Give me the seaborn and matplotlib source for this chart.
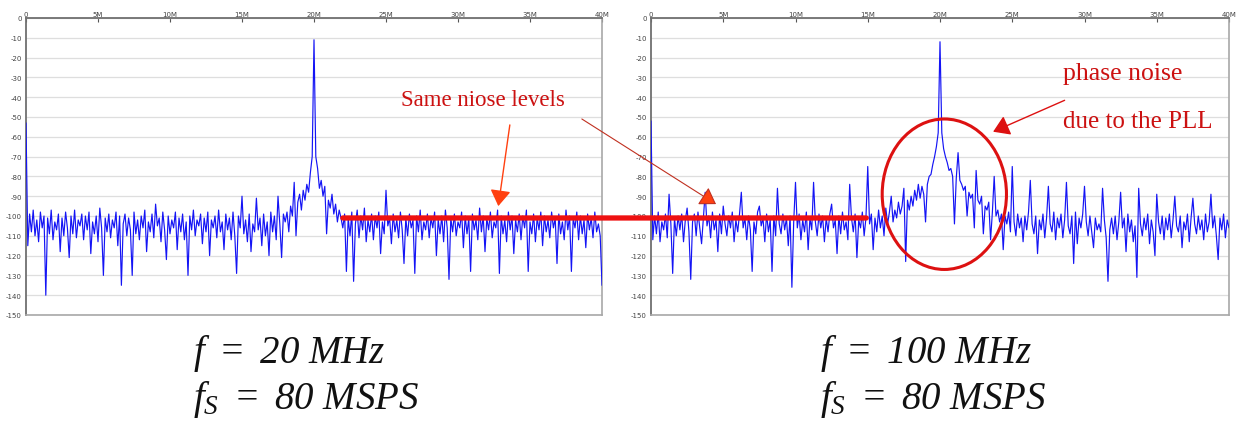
import numpy as np
import pandas as pd
import matplotlib
matplotlib.use("Agg")
import matplotlib.pyplot as plt
import seaborn as sns
from matplotlib.patches import Ellipse, ConnectionPatch

# spectrum bins, 0.125 MHz apart, 0 .. 40 MHz (dBFS)
bin_step_mhz = 0.125

spec_20mhz = [
    -53, -115, -99, -108, -97, -110, -102, -113, -98, -106, -100, -140, -101, -109, -97, -112,
    -103, -107, -99, -118, -101, -110, -98, -106, -121, -100, -109, -97, -111, -102, -105, -99,
    -112, -100, -107, -98, -119, -103, -109, -100, -113, -96, -106, -130, -101, -108, -99, -111,
    -102, -106, -98, -115, -100, -135, -104, -99, -110, -101, -107, -130, -98, -109, -102, -112,
    -100, -106, -97, -118, -103, -108, -99, -111, -94, -105, -101, -113, -98, -107, -122, -100,
    -109, -102, -106, -98, -117, -101, -108, -99, -112, -103, -130, -100, -107, -97, -110, -102,
    -105, -99, -114, -101, -108, -98, -120, -102, -106, -100, -111, -97, -108, -103, -117, -99,
    -107, -101, -112, -98, -110, -129, -100, -106, -90, -109, -102, -113, -99, -118, -104, -108,
    -91, -107, -101, -115, -99, -110, -103, -120, -98, -108, -100, -112, -90, -104, -121, -99,
    -103, -98, -108, -95, -100, -83, -110, -93, -89, -97, -87, -92, -84, -88, -78, -70,
    -11, -70, -76, -86, -82, -90, -85, -109, -92, -96, -89, -99, -94, -103, -97, -101,
    -106, -99, -128, -101, -110, -98, -133, -104, -97, -111, -100, -107, -96, -113, -102, -108,
    -99, -112, -100, -106, -98, -119, -103, -109, -87, -105, -101, -114, -99, -108, -102, -111,
    -98, -107, -124, -101, -110, -99, -106, -102, -129, -100, -108, -97, -112, -103, -107, -99,
    -111, -101, -106, -98, -120, -102, -109, -100, -113, -97, -106, -132, -101, -108, -99, -110,
    -103, -106, -98, -116, -100, -109, -101, -128, -99, -107, -102, -112, -96, -108, -100, -118,
    -101, -107, -98, -111, -103, -106, -97, -129, -100, -109, -102, -113, -98, -107, -100, -119,
    -102, -108, -99, -112, -100, -106, -97, -128, -103, -109, -99, -113, -101, -107, -98, -115,
    -100, -108, -102, -111, -98, -106, -101, -124, -99, -109, -103, -112, -97, -107, -100, -128,
    -101, -106, -98, -112, -100, -109, -102, -116, -99, -107, -101, -111, -98, -108, -104, -110,
    -135,
]

spec_100mhz = [
    -52, -112, -100, -109, -98, -113, -103, -107, -99, -111, -89, -104, -129, -101, -110, -100,
    -107, -99, -113, -102, -96, -108, -132, -103, -99, -110, -98, -106, -114, -101, -88, -105,
    -100, -111, -98, -107, -102, -118, -99, -109, -95, -104, -110, -100, -106, -98, -113, -102,
    -108, -99, -88, -106, -101, -112, -100, -107, -128, -103, -109, -98, -95, -105, -101, -113,
    -99, -108, -102, -128, -100, -110, -86, -104, -109, -99, -107, -101, -115, -100, -136, -103,
    -83, -106, -99, -112, -102, -108, -98, -117, -101, -107, -83, -103, -110, -99, -106, -100,
    -113, -101, -108, -99, -94, -106, -102, -119, -100, -109, -98, -107, -103, -112, -84, -101,
    -108, -99, -121, -102, -106, -98, -110, -101, -75, -104, -99, -117, -101, -108, -97, -106,
    -100, -110, -96, -104, -98, -90, -103, -97, -101, -93, -99, -95, -86, -123, -92, -97,
    -90, -95, -87, -92, -84, -91, -85, -89, -103, -84, -80, -79, -74, -70, -65, -58,
    -12, -58, -66, -70, -73, -77, -76, -80, -104, -81, -68, -82, -84, -87, -85, -100,
    -88, -91, -89, -106, -77, -92, -94, -90, -109, -95, -97, -93, -112, -98, -80, -100,
    -97, -103, -99, -117, -100, -104, -98, -108, -75, -103, -110, -99, -106, -101, -113, -100,
    -107, -98, -82, -104, -109, -100, -119, -102, -107, -99, -111, -101, -85, -104, -108, -98,
    -112, -101, -106, -99, -111, -102, -83, -105, -109, -100, -124, -98, -114, -101, -106, -99,
    -85, -103, -110, -100, -108, -116, -101, -107, -104, -108, -86, -102, -111, -133, -107, -101,
    -109, -100, -112, -103, -88, -106, -101, -118, -99, -108, -102, -113, -105, -131, -86, -104,
    -110, -101, -107, -99, -114, -102, -108, -120, -89, -103, -109, -100, -112, -101, -107, -99,
    -111, -102, -90, -105, -108, -100, -116, -103, -107, -99, -113, -101, -91, -104, -109, -100,
    -107, -102, -112, -99, -108, -103, -89, -106, -100, -110, -122, -101, -107, -99, -111, -102,
    -106,
]

x_ticks = [0, 5, 10, 15, 20, 25, 30, 35, 40]
x_tick_labels = ["0", "5M", "10M", "15M", "20M", "25M", "30M", "35M", "40M"]
y_ticks = list(range(0, -151, -10))
y_tick_labels = [str(v) for v in y_ticks]

noise_level = -101
captions = [
    (r"$f\ =\ 20\ MHz$", r"$f_S\ =\ 80\ MSPS$"),
    (r"$f\ =\ 100\ MHz$", r"$f_S\ =\ 80\ MSPS$"),
]

sns.set_style("white")
plt.rcParams["mathtext.fontset"] = "custom"
plt.rcParams["mathtext.rm"] = "Liberation Serif:italic"
plt.rcParams["mathtext.it"] = "Liberation Serif:italic"
plt.rcParams["mathtext.default"] = "it"
plt.rcParams["font.family"] = ["DejaVu Sans"]

fig = plt.figure(figsize=(12.39, 4.35), dpi=100)
ax1 = fig.add_axes([26 / 1239, 1 - 316 / 435, 576 / 1239, 297 / 435])
ax2 = fig.add_axes([651 / 1239, 1 - 316 / 435, 578 / 1239, 297 / 435])

for ax, spec in [(ax1, spec_20mhz), (ax2, spec_100mhz)]:
    df = pd.DataFrame({"freq": np.arange(len(spec)) * bin_step_mhz, "dB": spec})
    sns.lineplot(data=df, x="freq", y="dB", ax=ax, estimator=None,
                 color="#1414f5", lw=0.85, zorder=3)
    ax.set_xlim(0, 40)
    ax.set_ylim(-150, 0)
    ax.xaxis.tick_top()
    ax.set_xticks(x_ticks)
    ax.set_xticklabels(x_tick_labels)
    ax.set_yticks(y_ticks)
    ax.set_yticklabels(y_tick_labels)
    ax.tick_params(axis="x", direction="in", length=3, color="#555555",
                   labelsize=5, labelcolor="#444444", pad=1)
    ax.tick_params(axis="y", length=0, labelsize=5, labelcolor="#444444", pad=3)
    ax.set_xlabel("")
    ax.set_ylabel("")
    ax.yaxis.grid(True, color="#dedede", lw=0.9)
    ax.xaxis.grid(False)
    for side in ["top", "left"]:
        ax.spines[side].set_color("#707070")
        ax.spines[side].set_linewidth(1.3)
    for side in ["right", "bottom"]:
        ax.spines[side].set_color("#a8a8a8")
        ax.spines[side].set_linewidth(1.2)

# thick red line showing the common noise floor
level_line = ConnectionPatch(xyA=(22.0, noise_level), coordsA=ax1.transData,
                             xyB=(14.9, noise_level), coordsB=ax2.transData,
                             color="#ee1111", lw=3.8, zorder=5)
fig.add_artist(level_line)

ax1.text(31.7, -41, "Same niose levels", ha="center", va="center",
         fontsize=16.5, color="#cc1111", family="Liberation Serif")

arrow1 = ConnectionPatch(xyA=(33.6, -54), coordsA=ax1.transData,
                         xyB=(32.8, -95), coordsB=ax1.transData,
                         arrowstyle="-|>,head_length=0.7,head_width=0.45",
                         mutation_scale=14, color="#ff4010", lw=1.0, zorder=6)
fig.add_artist(arrow1)
arrow2 = ConnectionPatch(xyA=(38.6, -51), coordsA=ax1.transData,
                         xyB=(4.5, -94), coordsB=ax2.transData,
                         arrowstyle="-|>,head_length=0.7,head_width=0.45",
                         mutation_scale=14, color="#c03020", lw=0.8, zorder=6)
arrow2.set_facecolor("#ff4010")
fig.add_artist(arrow2)

# phase noise circle and note
ax2.add_patch(Ellipse((20.3, -89), 8.6, 76, fill=False, edgecolor="#dd1111",
                      lw=2.2, zorder=6, clip_on=False))
ax2.text(28.5, -28, "phase noise", ha="left", va="center", fontsize=18.5,
         color="#cc1111", family="Liberation Serif")
ax2.text(28.5, -52, "due to the PLL", ha="left", va="center", fontsize=18,
         color="#cc1111", family="Liberation Serif")
ax2.annotate("", xy=(23.5, -58), xytext=(28.8, -41),
             arrowprops=dict(arrowstyle="-|>,head_length=0.7,head_width=0.45",
                             mutation_scale=14, color="#dd1111", lw=1.0))

for (line1, line2), x_px in zip(captions, [193, 820]):
    fig.text(x_px / 1239, 1 - 353 / 435, line1, ha="left", va="center",
             fontsize=28, color="#111111")
    fig.text(x_px / 1239, 1 - 400 / 435, line2, ha="left", va="center",
             fontsize=28, color="#111111")

fig.savefig("out.png", dpi=100)
